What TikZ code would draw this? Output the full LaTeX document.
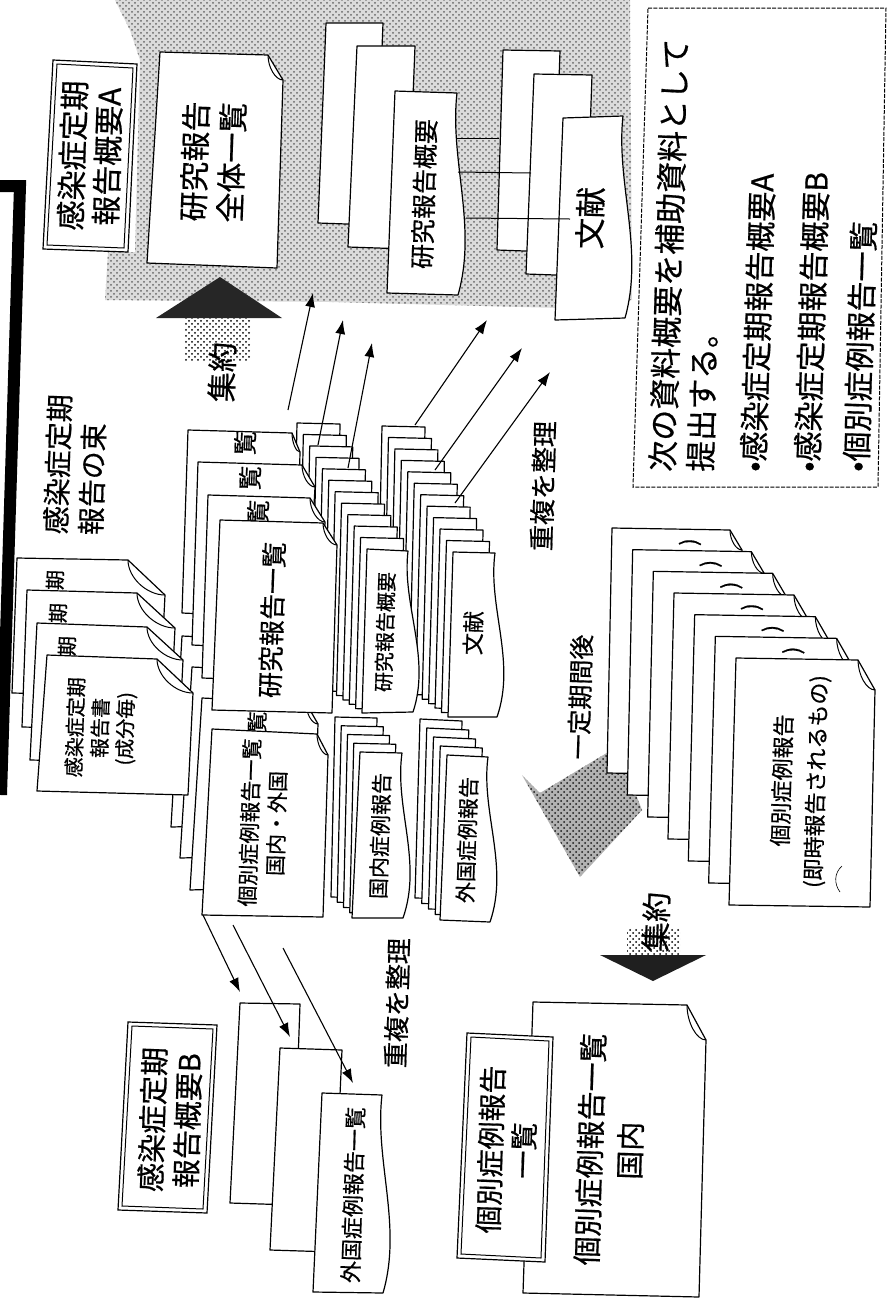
\documentclass[tikz,border=0pt]{standalone}
\usepackage{fontspec}
\setmainfont{Noto Sans CJK JP}[FakeBold=0.6]
\usetikzlibrary{arrows.meta,patterns,calc}
\newcommand\fsz[2]{\fontsize{#1pt}{#2pt}\selectfont}
% page with folded corner: TL, TR, tip, BR, BL
\newcommand\fpage[5]{%
  \draw[pg] #1 -- #2 -- #3 -- #4 -- #5 -- cycle;
  \coordinate (fa) at #2; \coordinate (fb) at #3;
  \draw[fl] (fa) .. controls ($(fa|-fb)!0.5!(fa)$) and ($(fa|-fb)!0.5!(fb)$) .. (fb);}
% plain page: TL, TR, BR, BL
\newcommand\rpage[4]{\draw[pg] #1 -- #2 -- #3 -- #4 -- cycle;}
% page with wavy right edge: TL, TR, BR, BL
\newcommand\wpage[4]{%
  \coordinate (wa) at #2; \coordinate (wb) at #3;
  \draw[pg] #1 -- (wa) .. controls ($(wa)!0.33!(wb)+(-8,0)$) and ($(wa)!0.66!(wb)+(20,0)$) .. (wb) -- #4 -- cycle;}
\begin{document}
\begin{tikzpicture}[x=0.5pt,y=-0.5pt,
  pg/.style={draw=black,line width=0.6pt,fill=white,line join=round},
  fl/.style={draw=black,line width=0.5pt},
  tx/.style={rotate=88.2,inner sep=0pt,align=center},
  arr/.style={-{Latex[length=7pt,width=5pt]},line width=0.55pt},
  dbl/.style={draw=black,line width=0.6pt,fill=white}]
\fill[white] (0,0) rectangle (888,1308);
\path[use as bounding box] (0,0) rectangle (888,1308);

% stippled background
\fill[black!14,postaction={pattern=crosshatch dots,pattern color=black!60}]
  (115,0) -- (630,0) -- (632,300) -- (560,308) -- (330,302) -- (105,300) -- (108,252)
  -- (135,252) -- (140,60) -- (130,30) -- cycle;

% thick frame
\draw[line width=6pt,line join=miter] (0,186) -- (20,186) -- (1,795);

% summary A box
\draw[dbl] (53,60) -- (137,64) -- (128,252) -- (43,249) -- cycle;
\draw[fl] (57,64) -- (133,68) -- (124,248) -- (47,245) -- cycle;
\node[tx,font=\fsz{15}{17.5}] (gA) at (90,156) {感染症定期\\報告概要A};

% research report full list
\fpage{(160,52)}{(268,55)}{(283,80)}{(277,268)}{(147,263)}
\node[tx,font=\fsz{15}{18.5}] (zentai) at (213,162) {研究報告\\全体一覧};

% stacks in stipple region
\rpage{(326,23)}{(383,23)}{(375,225)}{(318,223)}
\rpage{(357,46)}{(415,46)}{(407,249)}{(348,247)}
\wpage{(395,91)}{(457,93)}{(458,295)}{(387,293)}
\node[tx,font=\fsz{12.5}{15}] (gaiyoS) at (424,194) {研究報告概要};
\rpage{(503,50)}{(560,51)}{(553,252)}{(497,250)}
\rpage{(534,74)}{(592,75)}{(585,276)}{(526,274)}
\wpage{(563,118)}{(623,116)}{(625,318)}{(555,320)}
\node[tx,font=\fsz{15.5}{18}] (bunkenS) at (590,218) {文献};
\coordinate (c1a) at (456,138); \coordinate (c1b) at (499,138);
\coordinate (c2a) at (458,172); \coordinate (c2b) at (531,173);
\coordinate (c3a) at (466,218); \coordinate (c3b) at (570,219);
\draw[fl] (c1a) -- (c1b);
\draw[fl] (c2a) -- (c2b);
\draw[fl] (c3a) -- (c3b);

% upward "集約" arrow
\fill[pattern=crosshatch dots,pattern color=black] (185,317) rectangle (250,360);
\fill[black!85] (220,277) -- (282,318) -- (156,318) -- cycle;
\node[tx,font=\fsz{15}{18}] (shuA) at (222,372) {集約};

% bundle label
\node[tx,anchor=west,align=left,font=\fsz{14}{17.5}] (taba) at (73,535) {感染症定期\\報告の束};

% back pages of individual case list (domestic/foreign)
\fpage{(182,636)}{(286,641)}{(297,662)}{(292,824)}{(171,827)}
\fpage{(192,667)}{(296,672)}{(307,693)}{(302,855)}{(180,858)}
\fpage{(202,698)}{(306,703)}{(318,724)}{(312,886)}{(190,890)}
\node[tx,font=\fsz{10.5}{12}] (ran0) at (257,722) {覧};

% domestic case report stack
\foreach \i in {0,...,3}{
  \pgfmathsetmacro\ax{335+6.25*\i}\pgfmathsetmacro\ay{717+8.75*\i}\pgfmathsetmacro\by{897+5.25*\i}
  \draw[pg] (\ax,\ay) -- (\ax+42,\ay+1) -- (\ax+38,\by+1) -- (\ax-4,\by) -- cycle;}
\wpage{(360,752)}{(402,753)}{(403,918)}{(352,918)}
\node[tx,font=\fsz{10.5}{12}] (kokunai) at (380,836) {国内症例報告};

% foreign case report stack
\foreach \i in {0,...,3}{
  \pgfmathsetmacro\ax{420+6.75*\i}\pgfmathsetmacro\ay{719+9*\i}\pgfmathsetmacro\by{898+5.5*\i}
  \draw[pg] (\ax,\ay) -- (\ax+42,\ay+2) -- (\ax+38,\by+1) -- (\ax-5,\by) -- cycle;}
\wpage{(447,755)}{(488,757)}{(490,922)}{(440,920)}
\node[tx,font=\fsz{10.5}{12}] (gaikoku) at (467,840) {外国症例報告};

% literature stack (middle)
\foreach \i in {0,...,10}{
  \pgfmathsetmacro\ax{382+6.45*\i}\pgfmathsetmacro\ay{426+11.45*\i}\pgfmathsetmacro\by{668+4.45*\i}
  \draw[pg] (\ax,\ay) -- (\ax+43,\ay+1) -- (\ax+39,\by+1) -- (\ax-5,\by) -- cycle;}
\wpage{(453,552)}{(495,553)}{(497,717)}{(448,717)}
\node[tx,font=\fsz{11}{13}] (bunkenM) at (473,633) {文献};

% research summary stack (middle)
\foreach \i in {0,...,10}{
  \pgfmathsetmacro\ax{297+6.36*\i}\pgfmathsetmacro\ay{423+11.45*\i}\pgfmathsetmacro\by{665+4.36*\i}
  \draw[pg] (\ax,\ay) -- (\ax+43,\ay+1) -- (\ax+39,\by+1) -- (\ax-5,\by) -- cycle;}
\wpage{(367,549)}{(408,551)}{(413,712)}{(362,713)}
\node[tx,font=\fsz{10}{12}] (gaiyoM) at (385,632) {研究報告概要};

% research report list stack
\fpage{(188,430)}{(292,433)}{(300,452)}{(296,618)}{(182,613)}
\node[tx,font=\fsz{12}{14}] (ranA) at (245,443) {覧};
\fpage{(198,462)}{(302,465)}{(315,487)}{(306,650)}{(192,645)}
\node[tx,font=\fsz{12}{14}] (ranB) at (250,478) {覧};
\fpage{(208,495)}{(310,498)}{(325,522)}{(318,682)}{(202,678)}
\node[tx,font=\fsz{12}{14}] (ranC) at (258,512) {覧};
\fpage{(220,520)}{(323,523)}{(337,545)}{(332,713)}{(212,710)}
\node[tx,font=\fsz{13}{15}] (kenkyu) at (272,620) {研究報告一覧};

% individual case list front page
\fpage{(212,729)}{(317,734)}{(328,755)}{(323,917)}{(202,915)}
\node[tx,font=\fsz{10.5}{13.5}] (kobetsuL) at (263,823) {個別症例報告一覧\\国内・外国};

% periodic infection reports (by component)
\fpage{(17,558)}{(128,560)}{(165,595)}{(160,696)}{(12,693)}
\node[tx,font=\fsz{10}{12}] (ki1) at (55,580) {期};
\fpage{(27,590)}{(137,593)}{(175,628)}{(170,730)}{(22,727)}
\node[tx,font=\fsz{10}{12}] (ki2) at (58,613) {期};
\fpage{(37,623)}{(147,627)}{(183,660)}{(178,763)}{(30,760)}
\node[tx,font=\fsz{10}{12}] (ki3) at (67,646) {期};
\fpage{(47,655)}{(157,659)}{(193,693)}{(188,795)}{(37,791)}
\node[tx,font=\fsz{10}{12.5}] (hokokusho) at (101,728) {感染症定期\\報告書\\(成分毎)};

% arrows to stipple region
\coordinate (a1s) at (288,410); \coordinate (a1e) at (313,293);
\coordinate (a2s) at (318,445); \coordinate (a2e) at (343,320);
\coordinate (a3s) at (348,468); \coordinate (a3e) at (372,343);
\coordinate (r1s) at (415,425); \coordinate (r1e) at (487,320);
\coordinate (r2s) at (435,470); \coordinate (r2e) at (522,348);
\coordinate (r3s) at (455,503); \coordinate (r3e) at (550,372);
\draw[arr] (a1s) -- (a1e);
\draw[arr] (a2s) -- (a2e);
\draw[arr] (a3s) -- (a3e);
\draw[arr] (r1s) -- (r1e);
\draw[arr] (r2s) -- (r2e);
\draw[arr] (r3s) -- (r3e);

% labels
\node[tx,font=\fsz{13}{15}] (chofuku1) at (543,486) {重複を整理};
\node[tx,font=\fsz{13}{15}] (chofuku2) at (397,1003) {重複を整理};
\node[tx,font=\fsz{12.5}{15}] (ittei) at (580,697) {一定期間後};

% hatched arrow
\fill[black!30,postaction={pattern=crosshatch dots,pattern color=black!90}]
  (522,775) -- (540,793) -- (615,748) -- (632,785) -- (642,810) -- (580,877) -- cycle;

% immediate individual case reports stack
\foreach \i in {0,...,5}{
  \pgfmathsetmacro\ax{612+20.67*\i}\pgfmathsetmacro\ay{528+21.67*\i}
  \pgfmathsetmacro\bx{730+21.33*\i}\pgfmathsetmacro\by{530+21.67*\i}
  \pgfmathsetmacro\cx{742+22.17*\i}\pgfmathsetmacro\cy{550+23.33*\i}
  \pgfmathsetmacro\lx{607+20.33*\i}\pgfmathsetmacro\ly{773+22*\i}
  \fpage{(\ax,\ay)}{(\bx,\by)}{(\cx,\cy)}{(\cx-5,\ly+2)}{(\lx,\ly)}
  \node[tx,font=\fsz{11}{17}] at (\ax+78,\ay+14) {)};
}
\fpage{(736,658)}{(858,660)}{(875,690)}{(870,907)}{(729,905)}
\node[tx,font=\fsz{11}{17}] (sokuji) at (800,781) {個別症例報告\\(即時報告されるもの)};
\draw[line width=0.3pt] (842,866) .. controls (834,873) and (834,884) .. (840,892);

% downward "集約" arrow
\fill[pattern=crosshatch dots,pattern color=black] (627,928) rectangle (680,956);
\fill[black!88] (600,955) -- (706,955) -- (653,981) -- cycle;
\node[tx,font=\fsz{15}{18}] (shuB) at (656,922) {集約};

% domestic individual case list document
\fpage{(533,1002)}{(687,1005)}{(706,1040)}{(699,1297)}{(523,1293)}
\node[tx,font=\fsz{14.5}{20}] (kokunaiL) at (610,1150) {個別症例報告一覧\\国内};
\draw[dbl] (467,1033) -- (553,1037) -- (545,1262) -- (457,1258) -- cycle;
\draw[fl] (471,1037) -- (549,1041) -- (541,1258) -- (461,1254) -- cycle;
\node[tx,font=\fsz{14}{16.5}] (kobetsuBox) at (507,1150) {個別症例報告\\一覧};

% summary B box
\draw[dbl] (128,1022) -- (217,1025) -- (207,1213) -- (118,1210) -- cycle;
\draw[fl] (132,1026) -- (213,1029) -- (203,1209) -- (122,1206) -- cycle;
\node[tx,font=\fsz{14.5}{17.5}] (gB) at (170,1120) {感染症定期\\報告概要B};

% foreign case list stack
\rpage{(240,1003)}{(300,1004)}{(293,1205)}{(230,1203)}
\rpage{(280,1048)}{(342,1050)}{(333,1252)}{(270,1250)}
\wpage{(322,1093)}{(382,1095)}{(383,1293)}{(313,1292)}
\node[tx,font=\fsz{11}{13}] (gaikokuL) at (353,1195) {外国症例報告一覧};

\coordinate (b1s) at (203,915); \coordinate (b1e) at (240,992);
\coordinate (b2s) at (233,925); \coordinate (b2e) at (290,1037);
\coordinate (b3s) at (283,948); \coordinate (b3e) at (353,1083);
\draw[arr] (b1s) -- (b1e);
\draw[arr] (b2s) -- (b2e);
\draw[arr] (b3s) -- (b3e);

% note box
\draw[line width=0.5pt,dash pattern=on 2pt off 0.7pt] (648,8) -- (886,8) -- (878,487) -- (633,487) -- cycle;
\node[tx,anchor=west,font=\fsz{15.5}{18}] (n1) at (662,472) {次の資料概要を補助資料として};
\node[tx,anchor=west,font=\fsz{15.5}{18}] (n2) at (700,472) {提出する。};
\node[tx,anchor=west,font=\fsz{15}{18}] (n3) at (753,472) {•感染症定期報告概要A};
\node[tx,anchor=west,font=\fsz{15}{18}] (n4) at (807,472) {•感染症定期報告概要B};
\node[tx,anchor=west,font=\fsz{15}{18}] (n5) at (856,472) {•個別症例報告一覧};
\end{tikzpicture}
\end{document}
